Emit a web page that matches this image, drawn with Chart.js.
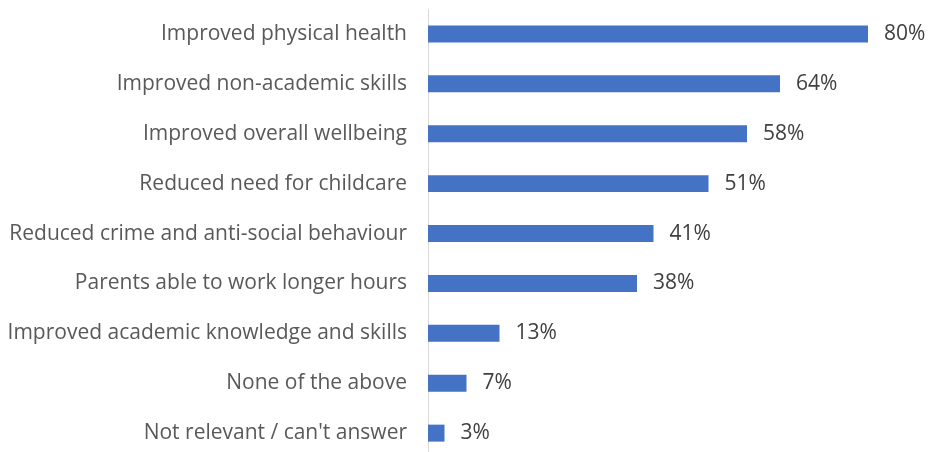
<!DOCTYPE html>
<html>
<head>
<meta charset="utf-8">
<script src="https://cdn.jsdelivr.net/npm/chart.js@4"></script>
<style>
  html, body { margin: 0; padding: 0; background: #fff; overflow: hidden; }
</style>
</head>
<body>
<canvas id="chart" width="929" height="467"></canvas>
<script>
const categories = [
  "Improved physical health",
  "Improved non-academic skills",
  "Improved overall wellbeing",
  "Reduced need for childcare",
  "Reduced crime and anti-social behaviour",
  "Parents able to work longer hours",
  "Improved academic knowledge and skills",
  "None of the above",
  "Not relevant / can't answer"
];
const values = [80, 64, 58, 51, 41, 38, 13, 7, 3];

const FONT = "'Open Sans', sans-serif";

/* value labels to the right of each bar */
const barLabels = {
  id: "barLabels",
  afterDatasetsDraw(c) {
    const ctx = c.ctx;
    const meta = c.getDatasetMeta(0);
    ctx.save();
    ctx.font = "21px " + FONT;
    ctx.fillStyle = "#404040";
    ctx.textAlign = "left";
    ctx.textBaseline = "middle";
    meta.data.forEach((bar, i) => {
      ctx.fillText(values[i] + "%", bar.x + 16, bar.y);
    });
    ctx.restore();
  }
};

new Chart(chart, {
  type: "bar",
  data: {
    labels: categories,
    datasets: [{
      data: values,
      backgroundColor: "#4472C4",
      categoryPercentage: 1,
      barPercentage: 0.34
    }]
  },
  options: {
    indexAxis: "y",
    responsive: false,
    animation: false,
    layout: { padding: { top: 9, bottom: 3, right: 6, left: 0 } },
    plugins: { legend: { display: false }, tooltip: { enabled: false } },
    scales: {
      x: { display: false, min: 0, max: 90 },
      y: {
        afterFit: s => { s.width = 428; },
        // tick marks are hidden, their length just spaces the labels from the axis
        grid: { display: false, drawTicks: true, tickLength: 21 },
        border: { display: true, color: "#d9d9d9", width: 1 },
        ticks: { color: "#595959", padding: 0, font: { family: FONT, size: 21, lineHeight: 0.85 } }
      }
    }
  },
  plugins: [barLabels]
});
</script>
</body>
</html>
